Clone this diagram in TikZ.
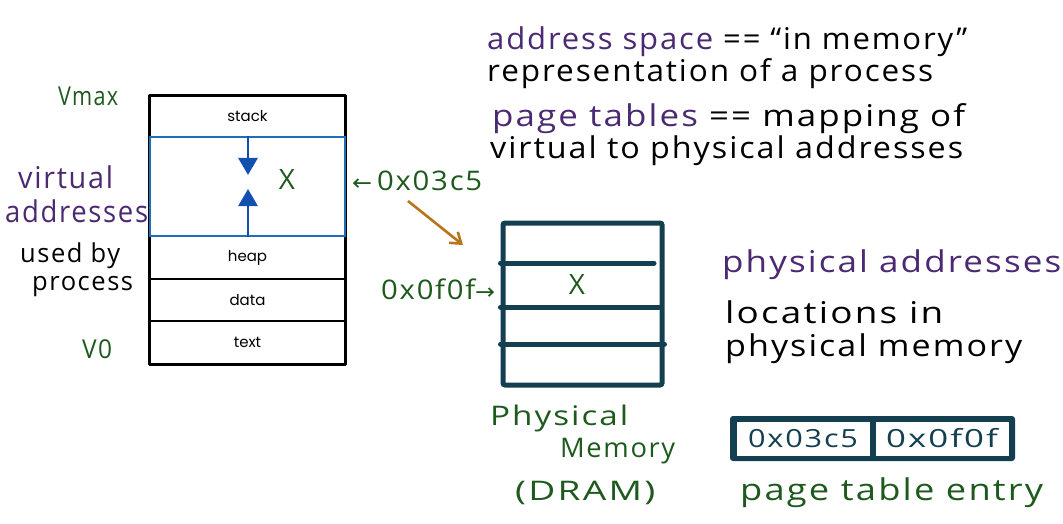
\documentclass[tikz,border=0pt]{standalone}
\usepackage{graphicx}
\usepackage{fontspec}
\setmainfont{Open Sans}
\newfontfamily\hand{Open Sans}[LetterSpace=6]
\newfontfamily\boxf{Poppins}
\newfontfamily\sym{DejaVu Sans}
\usetikzlibrary{arrows.meta,calc}
\newcommand\fw[2]{\resizebox{#1pt}{\height}{#2}}
\definecolor{hgreen}{HTML}{1E5A1E}
\definecolor{hpurple}{HTML}{4B2A73}
\definecolor{vblue}{HTML}{1F6FB8}
\definecolor{abluee}{HTML}{1250B0}
\definecolor{dteal}{HTML}{143F50}
\definecolor{horange}{HTML}{B8741A}
\tikzset{
  big/.style={anchor=base west,inner sep=0pt,font=\hand\fontsize{30}{32}\selectfont},
  lab/.style={anchor=base west,inner sep=0pt,font=\hand\fontsize{27}{30}\selectfont},
  mid/.style={anchor=base west,inner sep=0pt,font=\hand\fontsize{26}{28}\selectfont},
  vrow/.style={draw=black,line width=1.3pt,minimum width=195pt,inner sep=0pt,font=\boxf\fontsize{15}{17}\selectfont},
  gaprow/.style={draw=vblue,line width=2pt,minimum width=195pt,inner sep=0pt},
  barr/.style={abluee,line width=2.8pt,-{Triangle[length=17pt,width=19pt]}},
  pmline/.style={dteal,line width=5pt,line cap=round},
  cell/.style={fill=white,inner sep=0pt,minimum height=34pt,minimum width=133pt,text=dteal,font=\hand\fontsize{25}{27}\selectfont},
  bigx/.style={anchor=center,inner sep=0pt,text=hgreen,font=\hand\fontsize{28}{30}\selectfont},
}
\begin{document}
\begin{tikzpicture}[x=1pt,y=-1pt]
\useasboundingbox[fill=white] (0,0) rectangle (1063,524);

% virtual address space
\node[vrow,minimum height=41pt] (stack) at (247.5,116.5) {stack};
\node[vrow,minimum height=43pt] (heap) at (247.5,257.5) {heap};
\node[vrow,minimum height=42pt] (data) at (247.5,300) {data};
\node[vrow,minimum height=43pt] (text) at (247.5,342.5) {text};
\draw[line width=2.5pt,line join=round] (stack.north west) rectangle (text.south east);
\node[gaprow,minimum height=99pt] (gap) at (247.5,186.5) {};
\coordinate (dtip) at (248,175);
\coordinate (utip) at (248,189);
\draw[barr] (gap.north -| dtip) -- (dtip);
\draw[barr] (gap.south -| utip) -- (utip);
\node[bigx] (vx) at (287,180) {X};

% left labels
\node[mid,text=hgreen] (vmax) at (58,106) {\fw{60}{Vmax}};
\node[big,text=hpurple] (virt) at (18,188) {\fw{95}{virtual}};
\node[big,text=hpurple] (addrs) at (5,222) {\fw{143}{addresses}};
\node[mid] (usedby) at (20,262) {\fw{100}{used by}};
\node[mid] (proc) at (32,290) {\fw{101}{process}};
\node[mid,text=hgreen] (v0) at (82,358) {\fw{30}{V0}};

% addresses
\node[lab,text=hgreen] (va) at (352,190) {\fw{130}{{\sym\fontsize{22}{24}\selectfont ←}\,0x03c5}};
\node[lab,text=hgreen] (pa) at (381,299) {\fw{114}{0x0f0f{\sym\fontsize{22}{24}\selectfont →}}};
\coordinate (os) at (408,201);
\coordinate (oe) at (463,245);
\draw[horange,line width=2.6pt,-{Straight Barb[length=10pt,width=14pt]}] (os) -- (oe);

% physical memory
\node[draw=dteal,line width=5pt,rounded corners=2pt,minimum width=159pt,minimum height=162pt,inner sep=0pt] (pm) at (582.5,304) {};
\draw[pmline] (pm.west |- 0,263) -- (654,263);
\draw[pmline] (pm.west |- 0,307) -- (659,307);
\draw[pmline] (pm.west |- 0,344) -- (pm.east |- 0,344);
\node[bigx] (px) at (577,285) {X};
\node[lab,text=hgreen] (phys) at (490,425) {\fw{138}{Physical}};
\node[lab,text=hgreen] (mem) at (560,457) {\fw{115}{Memory}};
\node[lab,text=hgreen] (dram) at (515,500) {\fw{140}{(DRAM)}};

% notes
\node[big] (n1) at (487,50) {\fw{480}{\textcolor{hpurple}{address space} == “in memory”}};
\node[big] (n2) at (487,82) {\fw{446}{representation of a process}};
\node[big] (n3) at (492,127) {\fw{473}{\textcolor{hpurple}{page tables} == mapping of}};
\node[big] (n4) at (490,158) {\fw{473}{virtual to physical addresses}};

\node[big,text=hpurple] (pad) at (722,272) {\fw{339}{physical addresses}};
\node[big] (loc1) at (725,323) {\fw{218}{locations in}};
\node[big] (loc2) at (725,356) {\fw{297}{physical memory}};

% page table entry
\node[fill=dteal,rounded corners=3pt,minimum width=285pt,minimum height=45pt,inner sep=0pt] (pte) at (872.5,438.5) {};
\node[cell] (c1) at (803,438.5) {\fw{110}{0x03c5}};
\node[cell] (c2) at (942,438.5) {\fw{112}{0x0f0f}};
\node[big,text=hgreen] (ptel) at (740,500) {\fw{303}{page table entry}};
\end{tikzpicture}
\end{document}
